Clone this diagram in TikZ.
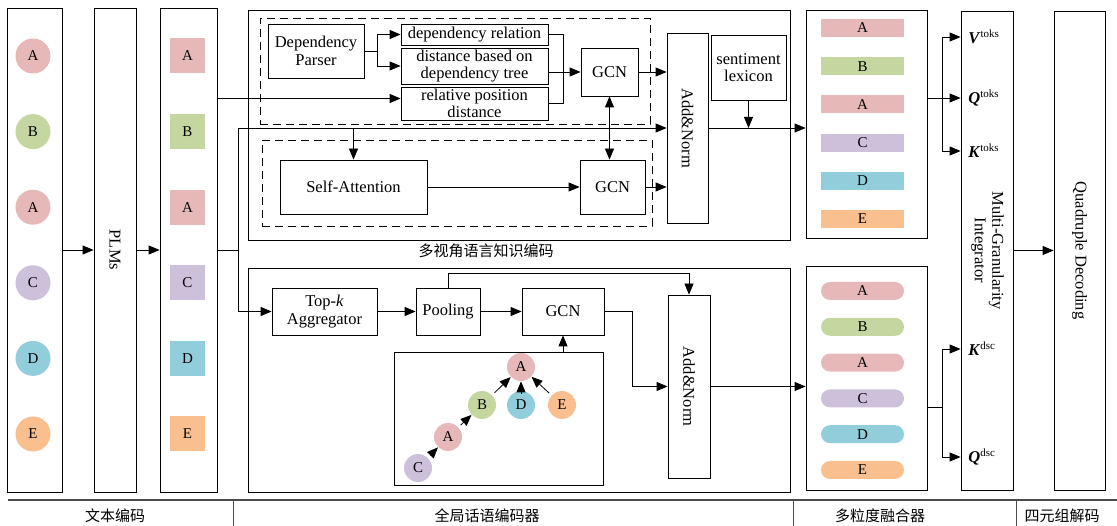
\documentclass[tikz,border=0pt]{standalone}
\usepackage{graphicx}
\usepackage{fontspec}
\setmainfont{Liberation Serif}
\newfontfamily\cjk{Noto Sans CJK SC}
\usepackage{xcolor}
\definecolor{rosa}{RGB}{230,184,183}
\definecolor{verde}{RGB}{196,215,160}
\definecolor{lila}{RGB}{204,192,218}
\definecolor{celeste}{RGB}{146,205,220}
\definecolor{naranja}{RGB}{250,191,143}
\usetikzlibrary{arrows.meta,calc,positioning}

\begin{document}
\begin{tikzpicture}[x=1pt,y=-1pt,>={Triangle[length=11pt,width=9pt]},line width=0.8pt,
    font=\fontsize{16.5}{17.5}\selectfont,
    caja/.style={draw,inner sep=1pt,align=center},
    rayado/.style={draw,dash pattern=on 8pt off 5pt},
    letra/.style={font=\fontsize{15}{15}\selectfont},
    ficha/.style={circle,fill=#1,minimum size=35pt,inner sep=0pt,letra},
    cuadro/.style={fill=#1,minimum size=35pt,inner sep=0pt,letra},
    barra/.style={fill=#1,minimum width=83pt,minimum height=18pt,inner sep=0pt,letra},
    pildora/.style={barra=#1,rounded corners=9pt},
    nodo/.style={circle,fill=#1,minimum size=28pt,inner sep=0pt,letra},
    etiqueta/.style={font=\cjk\fontsize{15}{15}\selectfont},
    clave/.style={anchor=west,inner sep=2pt}]
  \useasboundingbox (0,0) rectangle (1117,526);

  % text encoding
  \node[caja,minimum width=55pt,minimum height=484pt] (texto) at (34.5,250) {};
  \node[caja,minimum width=42pt,minimum height=484pt] (plm) at (115,250) {\rotatebox{-90}{PLMs}};
  \node[caja,minimum width=57pt,minimum height=484pt] (emb) at (188.5,250) {};
  \foreach \l/\c [count=\i] in {A/rosa,B/verde,A/rosa,C/lila,D/celeste,E/naranja}{
    \node[ficha=\c] (t\i) at (33,{56+75.6*(\i-1)}) {\l};
    \node[cuadro=\c] (e\i) at (187.5,{56+75.6*(\i-1)}) {\l};
  }
  \draw[->] (texto.east) -- (plm.west);
  \draw[->] (plm.east) -- (emb.west);

  % multi-view knowledge
  \node[caja,minimum width=542pt,minimum height=230pt] (vista) at (519,125) {};
  \node[etiqueta] (vistaLbl) at (486,251) {多视角语言知识编码};
  \node[rayado,minimum width=390pt,minimum height=106pt] (sint) at (455,71) {};
  \node[rayado,minimum width=390pt,minimum height=86pt] (sem) at (457,183) {};
  \node[caja,minimum width=96pt,minimum height=54pt] (parser) at (316,51) {Dependency\\Parser};
  \node[caja,minimum width=147pt,minimum height=21pt] (deprel) at (474.5,34.5) {dependency relation};
  \node[caja,minimum width=147pt,minimum height=36pt] (deptree) at (474.5,66) {distance based on\\dependency tree};
  \node[caja,minimum width=147pt,minimum height=33pt] (relpos) at (474.5,103.5) {relative position\\distance};
  \node[caja,minimum width=57pt,minimum height=48pt] (gcnA) at (609.5,72) {GCN};
  \node[caja,minimum width=147pt,minimum height=54pt] (self) at (353.5,187) {Self-Attention};
  \node[caja,minimum width=65pt,minimum height=54pt] (gcnB) at (612.5,187) {GCN};
  \node[caja,minimum width=41pt,minimum height=190pt] (addTop) at (687.5,128) {\rotatebox{-90}{Add\&Norm}};
  \node[caja,minimum width=75pt,minimum height=65pt] (lex) at (748.5,67.5) {sentiment\\lexicon};

  \draw (parser.east) -- ++(13,0) coordinate (pj);
  \draw[->] (pj) |- (deprel.west);
  \draw[->] (pj) |- (deptree.west);
  \draw (deprel.east) -- ++(15,0) |- (relpos.east);
  \draw[->] (deptree.east |- gcnA.west) -- (gcnA.west);
  \draw[->] (gcnA.east) -- (gcnA.east -| addTop.west);
  \draw[<->] (gcnA.south) -- (gcnA.south |- gcnB.north);
  \draw[->] (self.east) -- (gcnB.west);
  \draw[->] (gcnB.east) -- (gcnB.east -| addTop.west);
  \draw[->] (lex.south) -- (lex.south |- addTop.east);

  % global discourse
  \node[caja,minimum width=542pt,minimum height=224pt] (disc) at (519,380) {};
  \node[caja,minimum width=105pt,minimum height=47pt] (topk) at (324.5,311.5) {Top-\textit{k}\\Aggregator};
  \node[caja,minimum width=64pt,minimum height=47pt] (pool) at (448,311.5) {Pooling};
  \node[caja,minimum width=82pt,minimum height=47pt] (gcnC) at (563,311.5) {GCN};
  \node[caja,minimum width=42pt,minimum height=183pt] (addBot) at (689,386.5) {\rotatebox{-90}{Add\&Norm}};
  \node[caja,minimum width=209pt,minimum height=133pt] (arbol) at (498.5,418.5) {};
  \node[nodo=rosa] (rA) at (521,367) {A};
  \node[nodo=verde] (rB) at (482,405) {B};
  \node[nodo=celeste] (rD) at (521,405) {D};
  \node[nodo=naranja] (rE) at (562,405) {E};
  \node[nodo=rosa] (rA2) at (448,437) {A};
  \node[nodo=lila] (rC) at (418,468) {C};
  \foreach \a/\b in {rC/rA2,rA2/rB,rB/rA,rD/rA,rE/rA}
    \draw[->,shorten <=3pt] (\a) -- (\b);

  \draw[->] (topk.east) -- (pool.west);
  \draw[->] (pool.east) -- (gcnC.west);
  \draw[->] (pool.north) -- ++(0,-14) -| (addBot.north);
  \draw[->] (gcnC.east) -- ++(28,0) |- (addBot.west);
  \draw[->] (arbol.north -| gcnC.south) -- (gcnC.south);

  % inputs from the embeddings
  \coordinate (bus) at (238,250);
  \coordinate (rin) at ([yshift=5pt]relpos.west);
  \draw[->] (emb.east |- rin) -- (rin);
  \draw (emb.east) -- (bus);
  \draw[->] (bus) |- (addTop.west);
  \draw[->] (bus) |- (topk.west);
  \draw[->] (self.north |- addTop.west) -- (self.north);

  % multi-granularity fusion
  \node[caja,minimum width=121pt,minimum height=228pt] (fuseTop) at (866.5,124) {};
  \node[caja,minimum width=121pt,minimum height=224pt] (fuseBot) at (866.5,378) {};
  \foreach \l/\c [count=\i] in {A/rosa,B/verde,A/rosa,C/lila,D/celeste,E/naranja}{
    \node[barra=\c] (b\i) at (862.5,{28+38.2*(\i-1)}) {\l};
    \node[pildora=\c] (p\i) at (862.5,{291+35.8*(\i-1)}) {\l};
  }
  \draw[->] (addTop.east) -- (addTop.east -| fuseTop.west);
  \draw[->] (addBot.east) -- (addBot.east -| fuseBot.west);

  \node[caja,minimum width=52pt,minimum height=479pt] (integ) at (987,250.5)
    {\rotatebox{-90}{\begin{tabular}{@{}c@{}}Multi-Granularity\\Integrator\end{tabular}}};
  \node[caja,minimum width=51pt,minimum height=479pt] (quad) at (1079.5,250.5) {\rotatebox{-90}{Quadruple Decoding}};
  \node[clave] (vTok) at (966,37) {\textbf{\textit{V}}\textsuperscript{\fontsize{11}{11}\selectfont toks}};
  \node[clave] (qTok) at (966,98) {\textbf{\textit{Q}}\textsuperscript{\fontsize{11}{11}\selectfont toks}};
  \node[clave] (kTok) at (966,151) {\textbf{\textit{K}}\textsuperscript{\fontsize{11}{11}\selectfont toks}};
  \node[clave] (kDsc) at (966,349) {\textbf{\textit{K}}\textsuperscript{\fontsize{11}{11}\selectfont dsc}};
  \node[clave] (qDsc) at (966,457) {\textbf{\textit{Q}}\textsuperscript{\fontsize{11}{11}\selectfont dsc}};

  \coordinate (sT) at ([yshift=26pt]fuseTop.east);
  \draw (sT) -- ++(15,0) coordinate (jT);
  \foreach \n in {vTok,qTok,kTok}
    \draw[->] (jT) |- (integ.west |- \n);
  \coordinate (sB) at ([yshift=-29pt]fuseBot.east);
  \draw (sB) -- ++(15,0) coordinate (jB);
  \foreach \n in {kDsc,qDsc}
    \draw[->] (jB) |- (integ.west |- \n);
  \draw[->] (integ.east) -- (quad.west);

  % stage labels
  \draw[line width=1.5pt,black!70] (8,500) -- (1117,500);
  \foreach \x in {233,793,1016}
    \draw[line width=1pt,black!70] (\x,500) -- (\x,526);
  \node[etiqueta] (etTexto) at (115,516) {文本编码};
  \node[etiqueta] (etDisc) at (487,516) {全局话语编码器};
  \node[etiqueta] (etFus) at (880,516) {多粒度融合器};
  \node[etiqueta] (etDec) at (1062,516) {四元组解码};
\end{tikzpicture}
\end{document}
